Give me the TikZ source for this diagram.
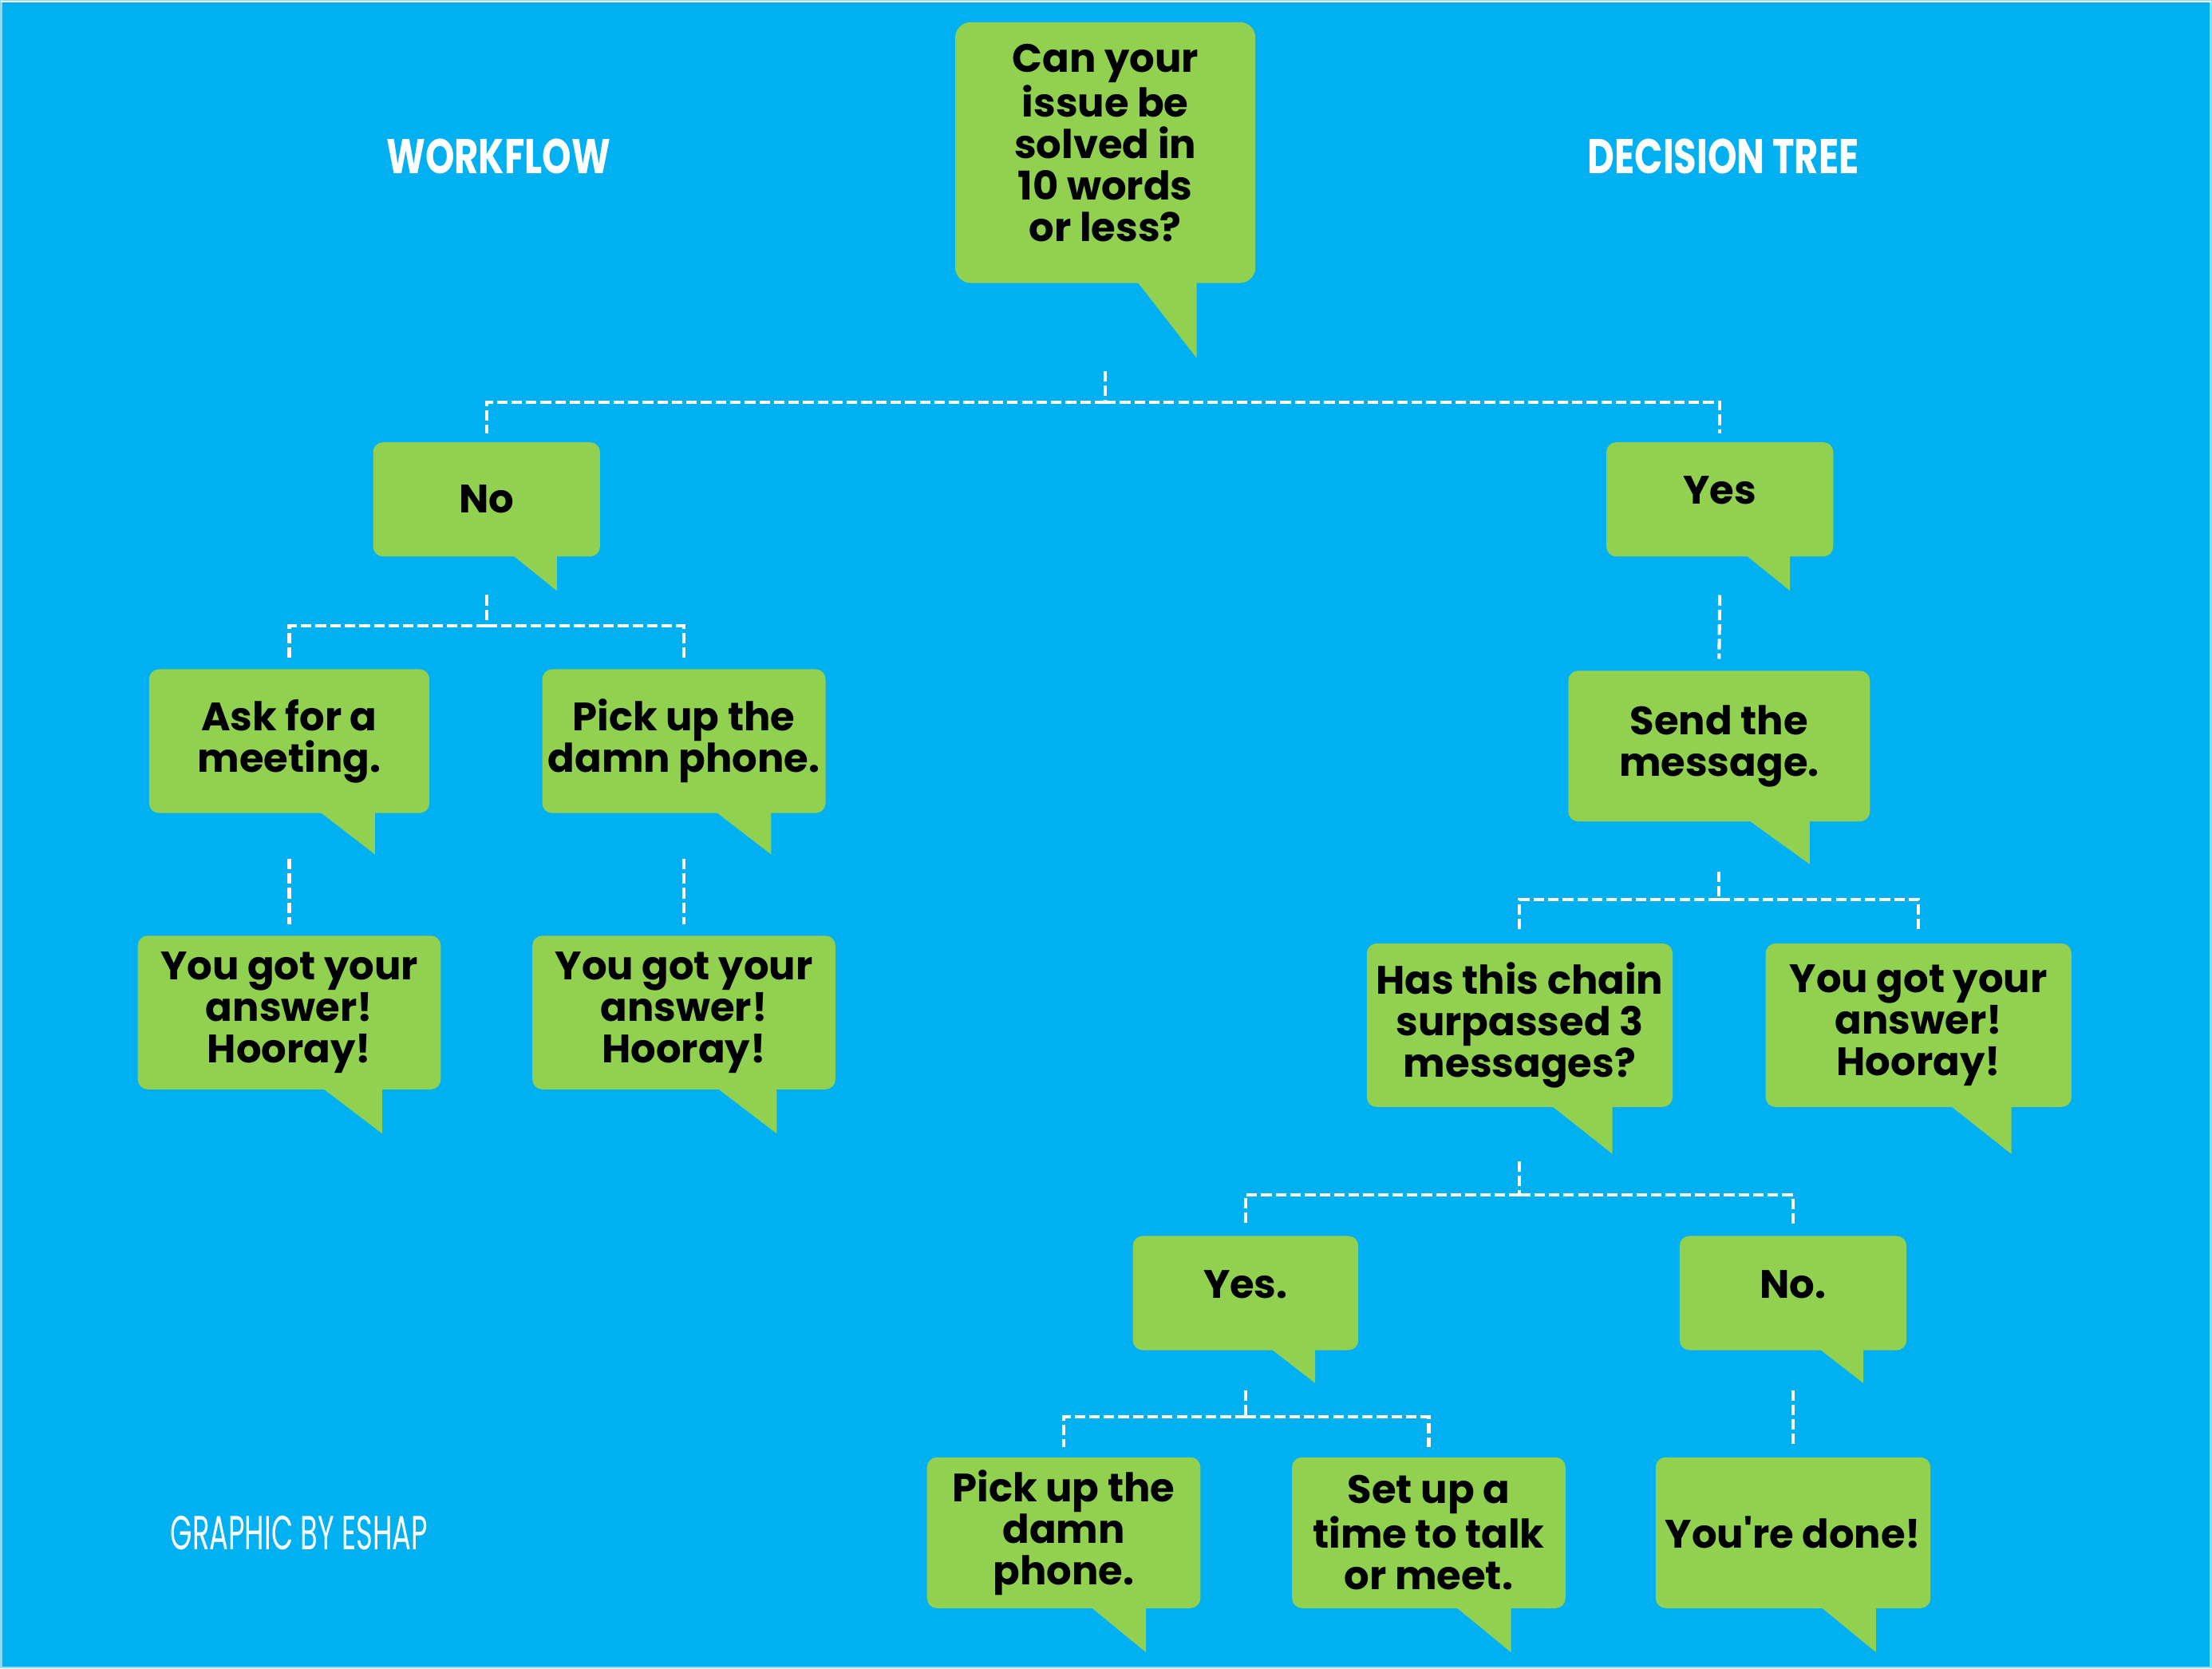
\documentclass[tikz,border=0pt]{standalone}
\usepackage{fontspec}
\setmainfont{Poppins}[Ligatures=TeXOff]
\newfontfamily\headfont{Poppins}[FakeStretch=0.76]
\newfontfamily\creditfont{Poppins}[FakeStretch=0.59]
\usepackage{xcolor}
\definecolor{sky}{HTML}{00B0F0}
\definecolor{leaf}{HTML}{92D050}
\newlength\px
\setlength\px{0.02cm}
\tikzset{
  bub/.style={fill=leaf,rounded corners=0.14cm,align=center,inner sep=0pt,
    font=\bfseries\fontsize{16}{16.7}\selectfont},
  box/.style 2 args={minimum width=#1\px,minimum height=#2\px},
  lift/.style={text height=12pt,text depth=8pt},
  head/.style={text=white,font=\headfont\bfseries\fontsize{19.7}{20}\selectfont},
  link/.style={draw=white,line width=0.046cm,dash pattern=on 0.15cm off 0.057cm}
}
\newcommand{\tail}[3]{\fill[leaf] ([xshift=-#2\px]#1.south east) ++(0,-1) -- ++(-#2,0) -- ++(#2,#3+1) -- cycle;}

\begin{document}
\begin{tikzpicture}[x=0.02cm,y=-0.02cm]
\fill[sky] (0,0) rectangle (1568,1182);
\draw[sky!45!white,line width=0.03cm] (0,0) rectangle (1568,1182);
\draw[white,line width=0.022cm] (0,0.5) -- (1568,0.5);
\useasboundingbox (0,0) rectangle (1568,1182);

\node[head] (work) at (353,110) {WORKFLOW};
\node[head] (dec) at (1222,110) {DECISION TREE};
\node[text=white,font=\creditfont\fontsize{19.3}{20}\selectfont] (credit) at (211.5,1086.5) {GRAPHIC BY ESHAP};

% question
\node[bub,box={213}{185},rounded corners=0.22cm,text depth=8pt] (q) at (783.5,107.5) {Can your\\issue be\\solved in\\10 words\\or less?}; \tail{q}{42}{53}

% workflow side
\node[bub,box={161}{81}] (no) at (344.5,353.5) {No}; \tail{no}{31}{24}
\node[bub,box={199}{102}] (ask) at (204.5,525) {Ask for a\\meeting.}; \tail{ask}{39}{29}
\node[bub,box={201}{102}] (pick) at (484.5,525) {Pick up the\\damn phone.}; \tail{pick}{39}{29}
\node[bub,box={215}{109}] (gotA) at (204.5,717.5) {You got your\\answer!\\Hooray!}; \tail{gotA}{42}{31}
\node[bub,box={215}{109}] (gotB) at (484.5,717.5) {You got your\\answer!\\Hooray!}; \tail{gotB}{42}{31}

% decision tree side
\node[bub,box={161}{81},lift] (yes) at (1219.5,353.5) {Yes}; \tail{yes}{31}{24}
\node[bub,box={214}{107}] (send) at (1219,528.5) {Send the\\message.}; \tail{send}{43}{30}
\node[bub,box={217}{116}] (chain) at (1077.5,726.5) {Has this chain\\surpassed 3\\messages?}; \tail{chain}{43}{33}
\node[bub,box={217}{116}] (gotC) at (1360.5,726.5) {You got your\\answer!\\Hooray!}; \tail{gotC}{43}{33}
\node[bub,box={160}{81},lift] (yesb) at (883,916.5) {Yes.}; \tail{yesb}{31}{23}
\node[bub,box={161}{81},lift] (nob) at (1271.5,916.5) {No.}; \tail{nob}{31}{23}
\node[bub,box={194}{107}] (pickb) at (754,1086.5) {Pick up the\\damn\\phone.}; \tail{pickb}{39}{31}
\node[bub,box={194}{107}] (meet) at (1013,1086.5) {Set up a\\time to talk\\or meet.}; \tail{meet}{39}{31}
\node[bub,box={195}{107}] (done) at (1271.5,1086.5) {You're done!}; \tail{done}{39}{31}

% dashed links
\draw[link] ([yshift=-62\px]q.south) -- ([yshift=-84\px]q.south) coordinate (q-fork);
\draw[link] (q-fork) -| ([yshift=6\px]no.north);
\draw[link] (q-fork) -| ([yshift=6\px]yes.north);
\draw[link] ([yshift=-27\px]no.south) -- ([yshift=-49\px]no.south) coordinate (no-fork);
\draw[link] (no-fork) -| ([yshift=8\px]ask.north);
\draw[link] (no-fork) -| ([yshift=8\px]pick.north);
\draw[link] ([yshift=-32\px]ask.south) -- ([yshift=8\px]gotA.north);
\draw[link] ([yshift=-32\px]pick.south) -- ([yshift=8\px]gotB.north);
\draw[link] ([yshift=-27\px]yes.south) -- ([yshift=8\px]send.north);
\draw[link] ([yshift=-35\px]send.south) -- ([yshift=-55\px]send.south) coordinate (send-fork);
\draw[link] (send-fork) -| ([yshift=8\px]chain.north);
\draw[link] (send-fork) -| ([yshift=8\px]gotC.north);
\draw[link] ([yshift=-38\px]chain.south) -- ([yshift=-62\px]chain.south) coordinate (chain-fork);
\draw[link] (chain-fork) -| ([yshift=7\px]yesb.north);
\draw[link] (chain-fork) -| ([yshift=7\px]nob.north);
\draw[link] ([yshift=-28\px]yesb.south) -- ([yshift=-47\px]yesb.south) coordinate (yesb-fork);
\draw[link] (yesb-fork) -| ([yshift=7\px]pickb.north);
\draw[link] (yesb-fork) -| ([yshift=7\px]meet.north);
\draw[link] ([yshift=-28\px]nob.south) -- ([yshift=9\px]done.north);
\end{tikzpicture}
\end{document}
